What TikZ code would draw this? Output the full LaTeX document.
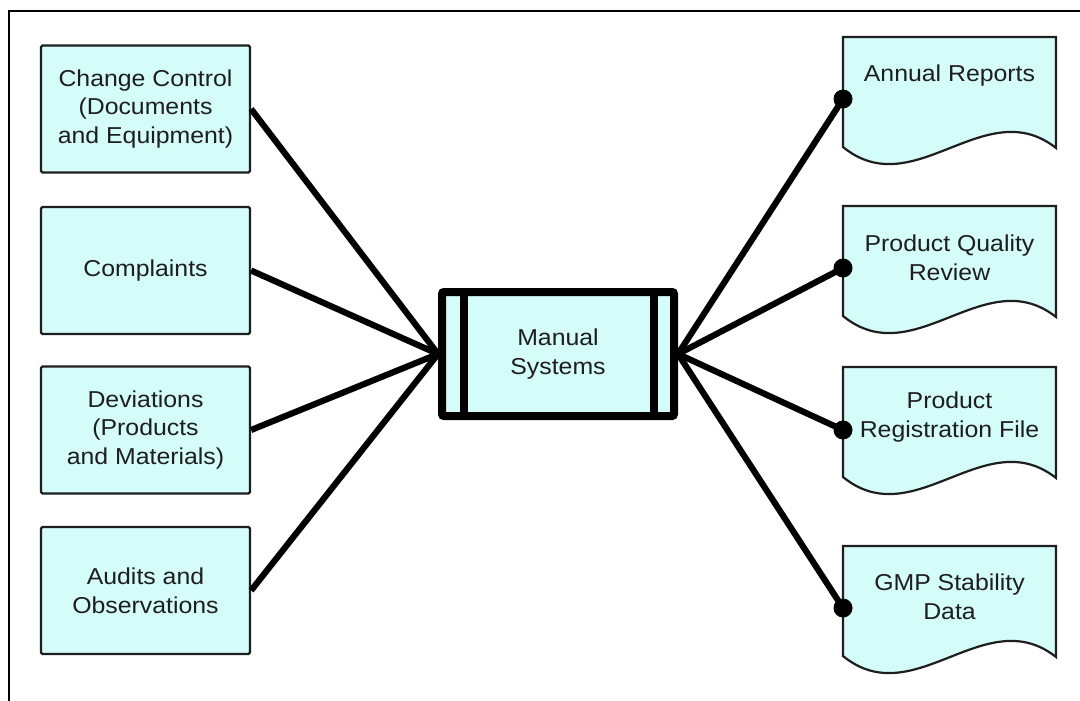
\documentclass[tikz,border=0pt]{standalone}
\usepackage{fontspec}
\setmainfont[FakeStretch=1.08]{Liberation Sans}
\definecolor{boxfill}{RGB}{212,252,248}
\definecolor{inkgray}{RGB}{30,30,30}
\begin{document}
\begin{tikzpicture}[x=1pt,y=-1pt,
  every node/.style={font=\fontsize{23}{28.7}\selectfont, text=inkgray, align=center},
  srcbox/.style={draw=inkgray, line width=2.2, fill=boxfill, minimum width=209,
                 minimum height=127, inner sep=0, rounded corners=1.5},
  hub/.style={draw=black, line width=8, fill=boxfill, minimum width=232,
              minimum height=124, inner sep=0, rounded corners=2},
  docshape/.style={draw=inkgray, line width=2.2, fill=boxfill},
  doctext/.style={anchor=north, inner sep=0},
  conn/.style={line width=6.2, black},
  pin/.style={black}
]
\useasboundingbox (0,0) rectangle (1080,701);
% page frame
\draw[line width=1.4] (9,701) -- (9,11) -- (1080,11);

% sources
\node[srcbox] (cc) at (145.5,109)   {Change Control\\(Documents\\and Equipment)};
\node[srcbox] (co) at (145.5,270.5) {Complaints};
\node[srcbox] (dv) at (145.5,430)   {Deviations\\(Products\\and Materials)};
\node[srcbox] (au) at (145.5,590.5) {Audits and\\Observations};

% central process
\node[hub] (ms) at (558,354) {Manual\\Systems};
\draw[line width=8] ([xshift=26]ms.north west) -- ([xshift=26]ms.south west);
\draw[line width=8] ([xshift=-24]ms.north east) -- ([xshift=-24]ms.south east);

% output documents
\foreach \t in {37,206,367,546}{
  \path[docshape] (843,\t) -- (1056,\t) -- (1056,\t+111)
    .. controls (985,\t+55) and (914,\t+168) .. (843,\t+110) -- cycle;
}
\node[doctext] (ar)  at (949.5,65)  {Annual Reports};
\node[doctext] (pqr) at (949.5,235) {Product Quality\\Review};
\node[doctext] (prf) at (949.5,392) {Product\\Registration File};
\node[doctext] (gmp) at (949.5,574) {GMP Stability\\Data};

\coordinate (arpin)  at (843,99);
\coordinate (pqrpin) at (843,268);
\coordinate (prfpin) at (843,430);
\coordinate (gmppin) at (843,608);

% connectors
\foreach \s in {cc,co,dv,au}{\draw[conn] (\s.east) -- (ms.west);}
\foreach \d in {arpin,pqrpin,prfpin,gmppin}{
  \draw[conn] (ms.east) -- (\d);
  \fill[pin] (\d) circle (9.5);
}
\end{tikzpicture}
\end{document}
